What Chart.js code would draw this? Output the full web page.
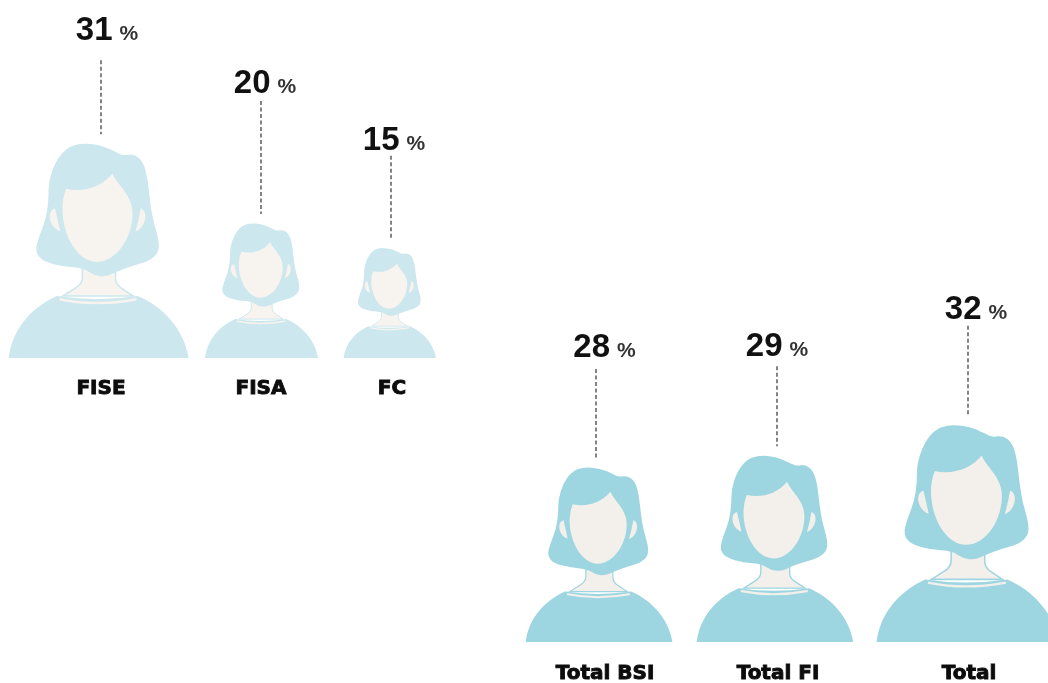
<!DOCTYPE html>
<html>
<head>
<meta charset="utf-8">
<script src="https://cdn.jsdelivr.net/npm/chart.js@4"></script>
<style>
html,body{margin:0;padding:0;background:#fff;width:1048px;height:683px;overflow:hidden}
canvas{position:absolute;left:0}
#a{top:0}
#b{top:283px}
</style>
</head>
<body>
<canvas id="a" width="1048" height="410"></canvas>
<canvas id="b" width="1048" height="400"></canvas>
<script>
const categoriesTop = ['FISE', 'FISA', 'FC'];
const valuesTop = [31, 20, 15];
const slotsTop = [101, 261, 391];
const tickSlotsTop = [101, 261, 392];
const categoriesBottom = ['Total BSI', 'Total FI', 'Total'];
const valuesBottom = [28, 29, 32];
const slotsBottom = [596, 777, 968];
const tickSlotsBottom = [605, 778, 969];

// Presentation only: how the artwork departs from strict proportionality, leader and label spacing
const sizeAdjustTop = [0.99, 0.964, 1.05];
const sizeAdjustBottom = [0.893, 0.92, 0.97];
const figureShiftTop = [0, 2, 0];
const figureShiftBottom = [5, 0, 2];
const leaderLengthsTop = [74, 113, 83];
const leaderLengthsBottom = [89, 80, 90];
const labelGapsTop = [32, 20, 18];
const labelGapsBottom = [24, 22, 19];
const labelShiftTop = [6, 4, 3];
const labelShiftBottom = [8.5, 0, 8];

const hairOutline = [[240,45],[300,50],[345,70],[368,82],[400,76],[428,100],[441,150],[447,210],[456,270],[474,330],[474,368],[445,394],[395,408],[350,424],[320,439],[285,437],[250,414],[190,410],[130,394],[108,365],[120,320],[140,270],[148,215],[148,160],[168,100],[200,60]];

function U(x){return x-303} function V(y){return y-45}
function smoothClosed(ctx, p){
  const n = p.length;
  const mid = (a, b) => [(a[0]+b[0])/2, (a[1]+b[1])/2];
  const s = mid(p[n-1], p[0]);
  ctx.beginPath();
  ctx.moveTo(U(s[0]), V(s[1]));
  for (let i = 0; i < n; i++){
    const m = mid(p[i], p[(i+1)%n]);
    ctx.quadraticCurveTo(U(p[i][0]), V(p[i][1]), U(m[0]), V(m[1]));
  }
  ctx.closePath();
}
function person(ctx, hair, face){
  // neck
  ctx.fillStyle = face; ctx.strokeStyle = hair; ctx.lineWidth = 4.5;
  ctx.beginPath();
  ctx.moveTo(U(248),V(400));
  ctx.lineTo(U(248),V(445));
  ctx.quadraticCurveTo(U(246),V(462),U(228),V(473));
  ctx.lineTo(U(190),V(497));
  ctx.lineTo(U(398),V(497));
  ctx.lineTo(U(362),V(473));
  ctx.quadraticCurveTo(U(346),V(462),U(346),V(445));
  ctx.lineTo(U(346),V(400));
  ctx.fill(); ctx.stroke();
  // body
  ctx.fillStyle = hair;
  ctx.beginPath();
  ctx.moveTo(U(30),V(680));
  ctx.bezierCurveTo(U(40),V(600),U(90),V(535),U(172),V(497));
  ctx.quadraticCurveTo(U(290),V(515),U(412),V(497));
  ctx.bezierCurveTo(U(490),V(530),U(550),V(600),U(562),V(680));
  ctx.closePath(); ctx.fill();
  // collar stripe
  ctx.strokeStyle = face; ctx.lineWidth = 7; ctx.lineCap = 'round';
  ctx.beginPath();
  ctx.moveTo(U(183),V(507));
  ctx.quadraticCurveTo(U(290),V(528),U(405),V(507));
  ctx.stroke();
  // hair
  ctx.fillStyle = hair;
  smoothClosed(ctx, hairOutline); ctx.fill();
  // face
  ctx.fillStyle = face;
  ctx.beginPath();
  ctx.moveTo(U(200),V(180));
  ctx.bezierCurveTo(U(250),V(192),U(305),V(175),U(337),V(135));
  ctx.bezierCurveTo(U(352),V(170),U(392),V(195),U(396),V(245));
  ctx.bezierCurveTo(U(400),V(320),U(350),V(396),U(292),V(396));
  ctx.bezierCurveTo(U(235),V(396),U(188),V(320),U(189),V(235));
  ctx.quadraticCurveTo(U(190),V(205),U(200),V(180));
  ctx.closePath(); ctx.fill();
  // ears
  ctx.beginPath();
  ctx.moveTo(U(167),V(238));
  ctx.bezierCurveTo(U(140),V(245),U(150),V(295),U(182),V(305));
  ctx.quadraticCurveTo(U(175),V(270),U(167),V(238));
  ctx.closePath(); ctx.fill();
  ctx.beginPath();
  ctx.moveTo(U(420),V(238));
  ctx.bezierCurveTo(U(445),V(245),U(435),V(297),U(405),V(306));
  ctx.quadraticCurveTo(U(415),V(270),U(420),V(238));
  ctx.closePath(); ctx.fill();
}

const pictogram = {
  id: 'pictogram',
  afterDatasetsDraw(chart, args, o){
    const ctx = chart.ctx;
    const base = chart.scales.y.getPixelForValue(0);
    const ds = chart.data.datasets[0];
    chart.getDatasetMeta(0).data.forEach((pt, i) => {
      const h = (base - pt.y) * o.sizeAdjust[i];
      const top = base - h;
      const k = h / 635;
      ctx.save();
      ctx.translate(pt.x + o.figureShift[i], top);
      ctx.scale(k, k);
      person(ctx, o.hair, o.face);
      ctx.restore();

      const leadBottom = top - 9;
      const leadTop = leadBottom - o.leaderLengths[i];
      ctx.save();
      ctx.strokeStyle = '#333';
      ctx.lineWidth = 1.2;
      ctx.setLineDash([4, 2.5]);
      ctx.beginPath();
      ctx.moveTo(pt.x, leadTop);
      ctx.lineTo(pt.x, leadBottom);
      ctx.stroke();
      ctx.restore();

      const num = String(ds.data[i].y);
      ctx.save();
      ctx.fillStyle = '#111';
      ctx.textBaseline = 'alphabetic';
      ctx.textAlign = 'left';
      const numFont = '700 33px "Liberation Sans"';
      const pctFont = '700 21px "Liberation Sans"';
      ctx.font = numFont; const w1 = ctx.measureText(num).width;
      ctx.font = pctFont; const w2 = ctx.measureText('%').width;
      const gap = 7;
      const startX = pt.x + o.labelShift[i] - (w1 + gap + w2) / 2;
      const yBase = leadTop - o.labelGaps[i] + 12;
      ctx.font = numFont; ctx.fillText(num, startX, yBase);
      ctx.fillStyle = '#333';
      ctx.font = pctFont; ctx.fillText('%', startX + w1 + gap, yBase);
      ctx.restore();
    });
  }
};

function build(id, cats, vals, slots, tickSlots, axisH, yMax, opts){
  const byX = new Map(tickSlots.map((s, i) => [s, cats[i]]));
  return new Chart(document.getElementById(id), {
    type: 'scatter',
    data: { datasets: [{ data: vals.map((v, i) => ({ x: slots[i], y: v })), pointRadius: 0, showLine: false }] },
    plugins: [pictogram],
    options: {
      responsive: false,
      animation: false,
      events: [],
      layout: { padding: 0 },
      plugins: { legend: { display: false }, tooltip: { enabled: false }, pictogram: opts },
      scales: {
        x: {
          type: 'linear', min: 0, max: 1048,
          grid: { display: false, drawTicks: false }, border: { display: false },
          afterBuildTicks(s){ s.ticks = tickSlots.map(v => ({ value: v })); },
          afterFit(s){ s.height = axisH; },
          ticks: {
            autoSkip: false, maxRotation: 0, padding: opts.tickPad, color: '#0c0c0c',
            textStrokeColor: '#0c0c0c', textStrokeWidth: 0.9,
            font: { family: 'DejaVu Sans', weight: '700', size: 20 },
            callback: v => byX.get(v)
          }
        },
        y: { display: false, min: 0, max: yMax }
      }
    }
  });
}

build('a', categoriesTop, valuesTop, slotsTop, tickSlotsTop, 52, 358 / 7, {
  sizeAdjust: sizeAdjustTop, figureShift: figureShiftTop, leaderLengths: leaderLengthsTop,
  labelGaps: labelGapsTop, labelShift: labelShiftTop,
  hair: '#cde7ee', face: '#f7f3ef', tickPad: 19
});
build('b', categoriesBottom, valuesBottom, slotsBottom, tickSlotsBottom, 41, 359 / 7, {
  sizeAdjust: sizeAdjustBottom, figureShift: figureShiftBottom, leaderLengths: leaderLengthsBottom,
  labelGaps: labelGapsBottom, labelShift: labelShiftBottom,
  hair: '#9dd6e1', face: '#f3efea', tickPad: 20
});
</script>
</body>
</html>
